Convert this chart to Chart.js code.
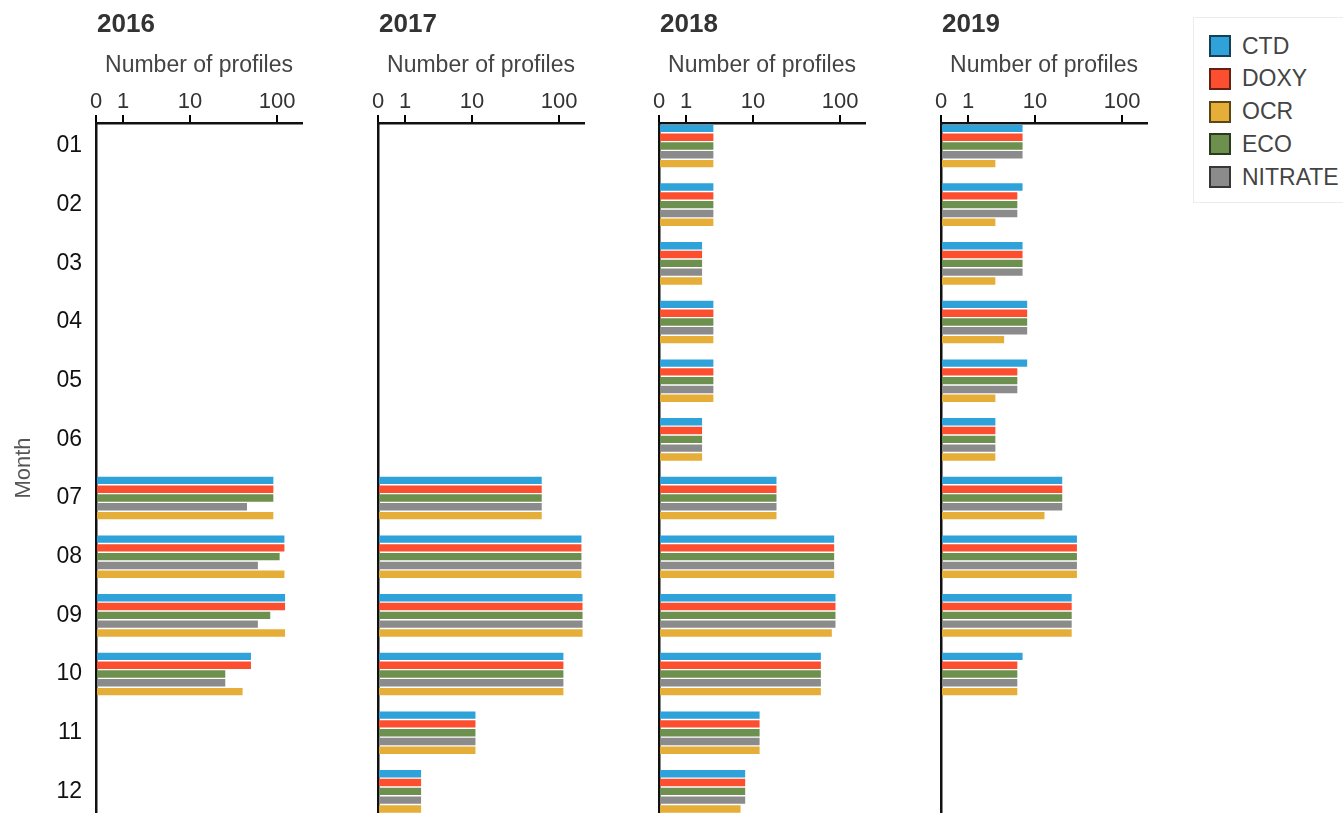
<!DOCTYPE html>
<html>
<head>
<meta charset="utf-8">
<script src="https://cdn.jsdelivr.net/npm/chart.js@4.4.1/dist/chart.umd.min.js"></script>
<style>
    html, body { margin: 0; padding: 0; background: #fff; overflow: hidden; }
    body { width: 1343px; height: 813px; position: relative; font-family: "Liberation Sans", Arial, sans-serif; }
    .panel { position: absolute; top: 0; }
    .legend {
        position: absolute; left: 1193px; top: 17px; width: 170px; height: 186px;
        border: 1px solid #ececec; box-sizing: border-box;
    }
    .legend-item { position: absolute; left: 15px; height: 26px; display: flex; align-items: center; }
    .legend-item span.box { width: 22px; height: 22px; box-sizing: border-box; border: 2px solid rgba(0,0,0,0.6); margin-right: 11px; }
    .legend-item span.lbl { font-size: 23px; color: #444; }
</style>
</head>
<body>
<canvas id="p2016" class="panel" width="310" height="813" style="left:0px"></canvas>
<canvas id="p2017" class="panel" width="310" height="813" style="left:282px"></canvas>
<canvas id="p2018" class="panel" width="310" height="813" style="left:563px"></canvas>
<canvas id="p2019" class="panel" width="310" height="813" style="left:845px"></canvas>
<div class="legend" id="legend"></div>

<script>
// Dados
const months = ['01', '02', '03', '04', '05', '06', '07', '08', '09', '10', '11', '12'];
const years = ['2016', '2017', '2018', '2019'];
const seriesNames = ['CTD', 'DOXY', 'ECO', 'NITRATE', 'OCR'];      // ordem das barras
const legendOrder = ['CTD', 'DOXY', 'OCR', 'ECO', 'NITRATE'];      // ordem da legenda
const seriesColors = {
    CTD: '#30a2da',
    DOXY: '#fc4f30',
    OCR: '#e5ae38',
    ECO: '#6d904f',
    NITRATE: '#8b8b8b'
};
const tickValues = [0, 1, 10, 100];
const tickLabels = ['0', '1', '10', '100'];
const axisMaxValue = 190;

// número de perfis por mês (null = sem dados)
const ctd2016     = [null, null, null, null, null, null, 91, 121, 123, 51, null, null];
const doxy2016    = [null, null, null, null, null, null, 91, 121, 123, 51, null, null];
const eco2016     = [null, null, null, null, null, null, 91, 107, 84, 26, null, null];
const nitrate2016 = [null, null, null, null, null, null, 46, 61, 61, 26, null, null];
const ocr2016     = [null, null, null, null, null, null, 91, 121, 123, 41, null, null];

const ctd2017     = [null, null, null, null, null, null, 64, 178, 183, 112, 11, 2];
const doxy2017    = [null, null, null, null, null, null, 64, 178, 183, 112, 11, 2];
const eco2017     = [null, null, null, null, null, null, 64, 178, 183, 112, 11, 2];
const nitrate2017 = [null, null, null, null, null, null, 64, 178, 183, 112, 11, 2];
const ocr2017     = [null, null, null, null, null, null, 64, 178, 183, 112, 11, 2];

const ctd2018     = [3, 3, 2, 3, 3, 2, 19, 86, 89, 61, 12, 8];
const doxy2018    = [3, 3, 2, 3, 3, 2, 19, 86, 89, 61, 12, 8];
const eco2018     = [3, 3, 2, 3, 3, 2, 19, 86, 89, 61, 12, 8];
const nitrate2018 = [3, 3, 2, 3, 3, 2, 19, 86, 89, 61, 12, 8];
const ocr2018     = [3, 3, 2, 3, 3, 2, 19, 86, 81, 61, 12, 7];

const ctd2019     = [7, 7, 7, 8, 8, 3, 21, 31, 27, 7, null, null];
const doxy2019    = [7, 6, 7, 8, 6, 3, 21, 31, 27, 6, null, null];
const eco2019     = [7, 6, 7, 8, 6, 3, 21, 31, 27, 6, null, null];
const nitrate2019 = [7, 6, 7, 8, 6, 3, 21, 31, 27, 6, null, null];
const ocr2019     = [3, 3, 3, 4, 3, 3, 13, 31, 27, 6, null, null];

const yearData = {
    '2016': [ctd2016, doxy2016, eco2016, nitrate2016, ocr2016],
    '2017': [ctd2017, doxy2017, eco2017, nitrate2017, ocr2017],
    '2018': [ctd2018, doxy2018, eco2018, nitrate2018, ocr2018],
    '2019': [ctd2019, doxy2019, eco2019, nitrate2019, ocr2019]
};

// escala log(x + 1), como no gráfico original
function log1p10(v) { return Math.log10(v + 1); }

const FONT = '"Liberation Sans", Arial, sans-serif';

// Plugin simples para o título do ano, alinhado ao eixo
const yearTitlePlugin = {
    id: 'yearTitle',
    afterDraw(chart, args, opts) {
        const ctx = chart.ctx;
        ctx.save();
        ctx.font = 'bold 26px ' + FONT;
        ctx.fillStyle = '#333';
        ctx.textBaseline = 'alphabetic';
        ctx.fillText(opts.text, chart.chartArea.left + 1, 32);
        ctx.restore();
    }
};

function buildPanel(year, index) {
    const rows = yearData[year];
    const datasets = seriesNames.map((name, s) => ({
        label: name,
        data: rows[s]
            .map((v, i) => v == null ? null : { x: log1p10(v), y: i + 1 })
            .filter(p => p !== null),
        backgroundColor: seriesColors[name],
        borderWidth: 0,
        categoryPercentage: 0.75,
        barPercentage: 0.84
    }));

    const first = index === 0;

    new Chart(document.getElementById('p' + year), {
        type: 'bar',
        data: { datasets: datasets },
        options: {
            indexAxis: 'y',
            responsive: false,
            animation: false,
            devicePixelRatio: 1,
            layout: { padding: { left: 0, right: 8, top: 0, bottom: 0 } },
            plugins: {
                legend: { display: false },
                tooltip: { enabled: false },
                yearTitle: { text: year }
            },
            scales: {
                x: {
                    type: 'linear',
                    position: 'top',
                    min: 0,
                    max: log1p10(axisMaxValue),
                    afterBuildTicks: s => { s.ticks = tickValues.map(v => ({ value: log1p10(v) })); },
                    afterFit: s => { s.height = 123; s.paddingLeft = 0; s.paddingRight = 0; },
                    ticks: {
                        autoSkip: false,
                        maxRotation: 0,
                        padding: 0,
                        color: '#333',
                        font: { family: FONT, size: 22 },
                        callback: (v, i) => tickLabels[i]
                    },
                    grid: {
                        drawOnChartArea: false,
                        drawTicks: true,
                        tickLength: 8,
                        color: '#000',
                        lineWidth: 2
                    },
                    border: { display: true, color: '#111', width: 2.5 },
                    title: {
                        display: true,
                        text: 'Number of profiles',
                        color: '#444',
                        font: { family: FONT, size: 23 },
                        padding: { top: 52, bottom: 0 }
                    }
                },
                y: {
                    type: 'linear',
                    reverse: true,
                    offset: false,
                    z: 1, // eixo desenhado por cima das barras
                    min: 0.608,
                    max: 12.369,
                    afterBuildTicks: s => { s.ticks = months.map((m, i) => ({ value: i + 1 })); },
                    afterFit: s => { s.width = 96; s.paddingTop = 0; s.paddingBottom = 0; },
                    ticks: {
                        display: first,
                        autoSkip: false,
                        padding: 14,
                        color: '#111',
                        font: { family: FONT, size: 23 },
                        callback: (v, i) => months[i]
                    },
                    grid: { display: false, drawTicks: false, offset: false },
                    border: { display: true, color: '#111', width: 2.5 },
                    title: {
                        display: first,
                        text: 'Month',
                        color: '#555',
                        font: { family: FONT, size: 22 },
                        padding: { top: 11, bottom: 0 }
                    }
                }
            }
        },
        plugins: [yearTitlePlugin]
    });
}

// Legenda em HTML (ordem diferente da ordem das barras)
function buildLegend() {
    const box = document.getElementById('legend');
    legendOrder.forEach((name, i) => {
        const item = document.createElement('div');
        item.className = 'legend-item';
        item.style.top = (15 + i * 32.8) + 'px';
        item.innerHTML = '<span class="box" style="background:' + seriesColors[name] + '"></span>' +
                         '<span class="lbl">' + name + '</span>';
        box.appendChild(item);
    });
}

document.addEventListener('DOMContentLoaded', function() {
    years.forEach(buildPanel);
    buildLegend();
});
</script>
</body>
</html>
